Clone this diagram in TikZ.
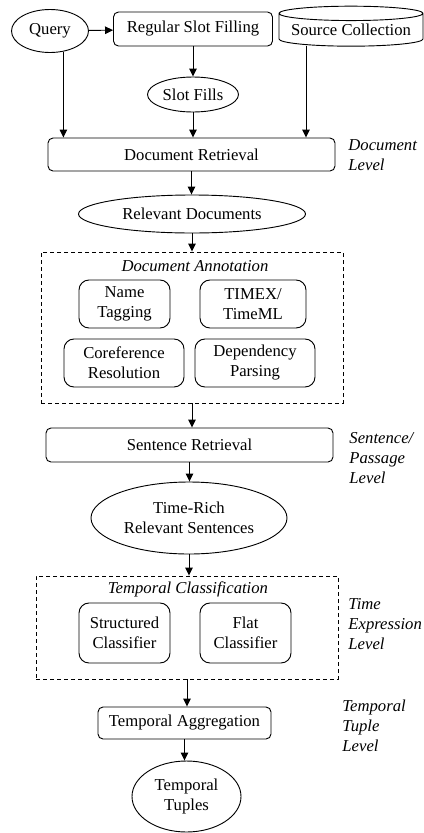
\documentclass[tikz,border=0pt]{standalone}
\usepackage{fontspec}
\setmainfont{Liberation Serif}
\usetikzlibrary{
	arrows.meta,
	calc,
	shapes.geometric,
}

\begin{document}
\begin{tikzpicture}[x=0.6pt,y=-0.6pt,
		line width=0.55pt,
		proc/.style={draw,rounded corners=3pt,inner sep=0pt},
		data/.style={draw,ellipse,inner sep=0pt,align=center},
		src/.style={draw,cylinder,shape border rotate=90,aspect=0.12,inner sep=0pt,minimum width=86.4pt,minimum height=24pt},
		grp/.style={draw,dash pattern=on 2.4pt off 1.8pt,inner sep=0pt},
		grptitle/.style={font=\itshape,inner sep=0pt},
		sub/.style={draw,rounded corners=6pt,inner sep=0pt,align=center,minimum height=28.8pt},
		lvl/.style={font=\itshape,align=left,anchor=west,inner sep=0pt},
		arr/.style={-{Triangle[length=4.8pt,width=4.5pt]}},
	]
	\useasboundingbox (0,0) rectangle (424,833);
	% document level
	\node[data,minimum width=46.2pt,minimum height=25.8pt] (Q) at (50,31) {Query};
	\node[proc,minimum width=95.4pt,minimum height=20.4pt] (RSF) at (193,29) {Regular Slot Filling};
	\node[src] (SC) at (351,30) {Source Collection};
	\node[data,minimum width=54.6pt,minimum height=21pt] (SF) at (193,94.5) {Slot Fills};
	\node[proc,minimum width=172.2pt,minimum height=19.8pt] (DR) at (191.5,154.5) {Document Retrieval};
	\node[lvl] (L1) at (348,155.5) {Document\\Level};
	\node[data,minimum width=136.2pt,minimum height=22.8pt] (RD) at (192,214) {Relevant Documents};
	\coordinate (SCb) at ($(SC.south)+(-45,-1)$);
	% annotation
	\node[grp,minimum width=181.2pt,minimum height=90.6pt] (DA) at (192,327.5) {};
	\node[grptitle] (DAt) at (195,266) {Document Annotation};
	\node[sub,minimum width=54.6pt] (NT) at (124.5,304) {Name\\Tagging};
	\node[sub,minimum width=63.6pt] (TX) at (253,304) {TIMEX/\\TimeML};
	\node[sub,minimum width=72pt] (CR) at (124,363) {Coreference\\Resolution};
	\node[sub,minimum width=72pt] (DP) at (255,363) {Dependency\\Parsing};
	% sentence level
	\node[proc,minimum width=172.2pt,minimum height=20.4pt] (SR) at (189.5,445) {Sentence Retrieval};
	\node[lvl] (L2) at (349,458) {Sentence/\\Passage\\Level};
	\node[data,minimum width=117.6pt,minimum height=43.2pt] (TR) at (189,518) {Time-Rich\\Relevant Sentences};
	% time expression level
	\node[grp,minimum width=181.2pt,minimum height=61.8pt] (TC) at (187,627.5) {};
	\node[grptitle] (TCt) at (188,589) {Temporal Classification};
	\node[sub,minimum width=54.6pt,minimum height=36pt] (ST) at (124.5,633) {Structured\\Classifier};
	\node[sub,minimum width=54.6pt,minimum height=36pt] (FC) at (245.5,633) {Flat\\Classifier};
	\node[lvl] (L3) at (348,624) {Time\\Expression\\Level};
	% tuple level
	\node[proc,minimum width=103.8pt,minimum height=19.2pt] (TA) at (184.5,723) {Temporal Aggregation};
	\node[lvl] (L4) at (342,725.5) {Temporal\\Tuple\\Level};
	\node[data,minimum width=65.4pt,minimum height=42.6pt] (TT) at (186.5,796.5) {Temporal\\Tuples};

	\draw[arr] (Q) -- (RSF);
	\draw[arr] (RSF.south) -- (RSF.south |- SF.north);
	\draw[arr] (Q.-57) -- (Q.-57 |- DR.north);
	\draw[arr] (SF.south) -- (SF.south |- DR.north);
	\draw[arr] (SCb) -- (SCb |- DR.north);
	\draw[arr] (DR.south) -- (DR.south |- RD.north);
	\draw[arr] (RD.south) -- (RD.south |- DA.north);
	\draw[arr] (DA.south) -- (DA.south |- SR.north);
	\draw[arr] (SR.south) -- (SR.south |- TR.north);
	\draw[arr] (TR.south) -- (TR.south |- TC.north);
	\draw[arr] (TC.south) -- (TC.south |- TA.north);
	\draw[arr] (TA.south) -- (TA.south |- TT.north);
\end{tikzpicture}
\end{document}
